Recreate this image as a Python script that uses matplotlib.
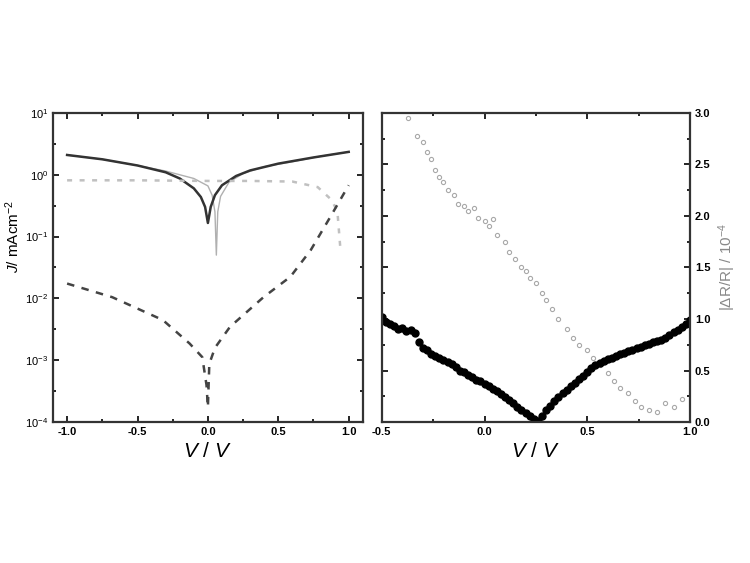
import numpy as np
import matplotlib.pyplot as plt
from matplotlib.ticker import FixedLocator, MultipleLocator

plt.rcParams['font.family'] = ['Liberation Sans', 'DejaVu Sans']
plt.rcParams['mathtext.fontset'] = 'custom'
plt.rcParams['mathtext.rm'] = 'Liberation Sans'
plt.rcParams['mathtext.it'] = 'Liberation Sans:italic'

# ---- left panel : log10 of current density ----
v_black = [-1.0, -0.75, -0.5, -0.3, -0.2, -0.1, -0.05, -0.02, 0.0, 0.02, 0.05, 0.1, 0.2, 0.3, 0.5, 0.75, 1.0]
logj_black = [0.32, 0.25, 0.15, 0.04, -0.06, -0.22, -0.36, -0.52, -0.78, -0.52, -0.33, -0.17, -0.02, 0.07, 0.18, 0.28, 0.37]

v_grey = [-1.0, -0.75, -0.5, -0.3, -0.2, -0.1, 0.0, 0.03, 0.05, 0.06, 0.07, 0.09, 0.15, 0.25, 0.4, 0.6, 0.8, 1.0]
logj_grey = [0.32, 0.25, 0.15, 0.06, 0.0, -0.06, -0.18, -0.33, -0.6, -1.3, -0.6, -0.35, -0.12, 0.02, 0.13, 0.21, 0.3, 0.37]

v_dot = [-1.0, -0.5, 0.0, 0.3, 0.6, 0.78, 0.88, 0.92, 0.94]
logj_dot = [-0.09, -0.09, -0.1, -0.1, -0.11, -0.2, -0.41, -0.6, -1.17]

v_dash = [-1.0, -0.68, -0.32, -0.13, -0.04, -0.01, 0.0, 0.01, 0.05, 0.157, 0.395, 0.586, 0.73, 0.87, 1.0]
logj_dash = [-1.76, -1.98, -2.35, -2.73, -2.95, -3.4, -3.76, -3.06, -2.8, -2.46, -1.98, -1.65, -1.22, -0.68, -0.17]

# ---- right panel : |dR/R| / 1e-4 ----
v_r_black = [-0.50, -0.48, -0.46, -0.44, -0.42, -0.40, -0.38, -0.36, -0.34, -0.32,
             -0.30, -0.28, -0.26, -0.24, -0.22, -0.20, -0.18, -0.16, -0.14, -0.12,
             -0.10, -0.08, -0.06, -0.04, -0.02, 0.00, 0.02, 0.04, 0.06, 0.08,
             0.10, 0.12, 0.14, 0.16, 0.18, 0.20, 0.22, 0.24, 0.26, 0.28,
             0.30, 0.32, 0.34, 0.36, 0.38, 0.40, 0.42, 0.44, 0.46, 0.48,
             0.50, 0.52, 0.54, 0.56, 0.58, 0.60, 0.62, 0.64, 0.66, 0.68,
             0.70, 0.72, 0.74, 0.76, 0.78, 0.80, 0.82, 0.84, 0.86, 0.88,
             0.90, 0.92, 0.94, 0.96, 0.98, 1.00]
dr_black = [1.02, 0.97, 0.95, 0.93, 0.90, 0.91, 0.88, 0.89, 0.86, 0.78,
            0.72, 0.70, 0.66, 0.64, 0.62, 0.60, 0.58, 0.56, 0.53, 0.50,
            0.49, 0.46, 0.44, 0.41, 0.40, 0.37, 0.35, 0.32, 0.30, 0.27,
            0.24, 0.21, 0.18, 0.15, 0.12, 0.09, 0.06, 0.03, 0.01, 0.06,
            0.12, 0.16, 0.20, 0.24, 0.28, 0.31, 0.35, 0.38, 0.42, 0.45,
            0.49, 0.52, 0.55, 0.57, 0.59, 0.61, 0.62, 0.64, 0.66, 0.67,
            0.69, 0.70, 0.72, 0.73, 0.75, 0.76, 0.78, 0.79, 0.80, 0.82,
            0.84, 0.87, 0.89, 0.92, 0.95, 0.99]

v_r_grey = [-0.37, -0.33, -0.30, -0.28, -0.26, -0.24, -0.22, -0.20, -0.18, -0.15,
            -0.13, -0.10, -0.08, -0.05, -0.03, 0.00, 0.02, 0.04, 0.06, 0.10,
            0.12, 0.15, 0.18, 0.20, 0.22, 0.25, 0.28, 0.30, 0.33, 0.36,
            0.40, 0.43, 0.46, 0.50, 0.53, 0.56, 0.60, 0.63, 0.66, 0.70,
            0.73, 0.76, 0.80, 0.84, 0.88, 0.92, 0.96]
dr_grey = [2.95, 2.78, 2.72, 2.62, 2.55, 2.45, 2.38, 2.33, 2.25, 2.20,
           2.12, 2.10, 2.05, 2.08, 1.98, 1.95, 1.90, 1.97, 1.82, 1.75,
           1.65, 1.58, 1.50, 1.47, 1.40, 1.35, 1.25, 1.18, 1.10, 1.00,
           0.90, 0.82, 0.75, 0.70, 0.62, 0.55, 0.48, 0.40, 0.33, 0.28,
           0.20, 0.15, 0.12, 0.10, 0.18, 0.15, 0.22]

decades = [-4, -3, -2, -1, 0, 1]

fig = plt.figure(figsize=(7.5, 5.63), dpi=100)
ax1 = fig.add_axes([0.0707, 0.2504, 0.413, 0.549])
ax2 = fig.add_axes([0.509, 0.2504, 0.411, 0.549])

ax1.plot(v_grey, 10 ** np.array(logj_grey), color='#b0b0b0', lw=1.0)
ax1.plot(v_black, 10 ** np.array(logj_black), color='#333333', lw=1.8)
ax1.plot(v_dot, 10 ** np.array(logj_dot), color='#c0c0c0', lw=1.8, ls=(0, (2, 3)))
ax1.plot(v_dash, 10 ** np.array(logj_dash), color='#444444', lw=1.8, ls=(0, (3, 3)))
ax1.set_yscale('log')
ax1.set_xlim(-1.1, 1.1)
ax1.set_ylim(1e-4, 1e1)
ax1.yaxis.set_major_locator(FixedLocator([10.0 ** d for d in decades]))
ax1.yaxis.set_minor_locator(FixedLocator([10.0 ** (d + 0.5) for d in decades[:-1]]))
ax1.set_yticklabels(['$10^{%d}$' % d for d in decades])
ax1.xaxis.set_major_locator(MultipleLocator(0.5))
ax1.xaxis.set_minor_locator(MultipleLocator(0.25))
ax1.set_xticklabels
ax1.set_xlabel('$V$ / $V$', fontsize=15)
ax1.set_ylabel('$J$/ mAcm$^{-2}$', fontsize=11)
ax1.yaxis.set_label_coords(-0.1, 0.6)

ax2.plot(v_r_grey, dr_grey, ls='none', marker='o', ms=3, mfc='none', mec='#a8a8a8', mew=0.8)
ax2.plot(v_r_black, dr_black, ls='none', marker='o', ms=5, color='black')
ax2.set_xlim(-0.5, 1.0)
ax2.set_ylim(0, 3.0)
ax2.xaxis.set_major_locator(MultipleLocator(0.5))
ax2.xaxis.set_minor_locator(MultipleLocator(0.25))
ax2.yaxis.set_major_locator(MultipleLocator(0.5))
ax2.yaxis.set_minor_locator(MultipleLocator(0.25))
ax2.yaxis.tick_right()
ax2.yaxis.set_label_position('right')
ax2.set_xlabel('$V$ / $V$', fontsize=15)
ax2.set_ylabel(r'|$\Delta$R/R| / 10$^{-4}$', fontsize=11, color='#888888', rotation=90)

for ax in (ax1, ax2):
    for s in ax.spines.values():
        s.set_linewidth(1.6)
        s.set_color('#333333')
    ax.tick_params(which='both', direction='in', top=True, bottom=True, left=True, right=True,
                   width=1.2, labelsize=8)
    ax.tick_params(which='major', length=4)
    ax.tick_params(which='minor', length=2.5)
    for lab in ax.get_xticklabels() + ax.get_yticklabels():
        lab.set_fontweight('bold')

ax1.set_xticks([-1.0, -0.5, 0.0, 0.5, 1.0])
ax1.set_xticklabels(['-1.0', '-0.5', '0.0', '0.5', '1.0'], fontweight='bold')
ax2.set_xticks([-0.5, 0.0, 0.5, 1.0])
ax2.set_xticklabels(['-0.5', '0.0', '0.5', '1.0'], fontweight='bold')
ax2.set_yticks([0.0, 0.5, 1.0, 1.5, 2.0, 2.5, 3.0])
ax2.set_yticklabels(['0.0', '0.5', '1.0', '1.5', '2.0', '2.5', '3.0'], fontweight='bold')

fig.savefig('out.png', dpi=100)
